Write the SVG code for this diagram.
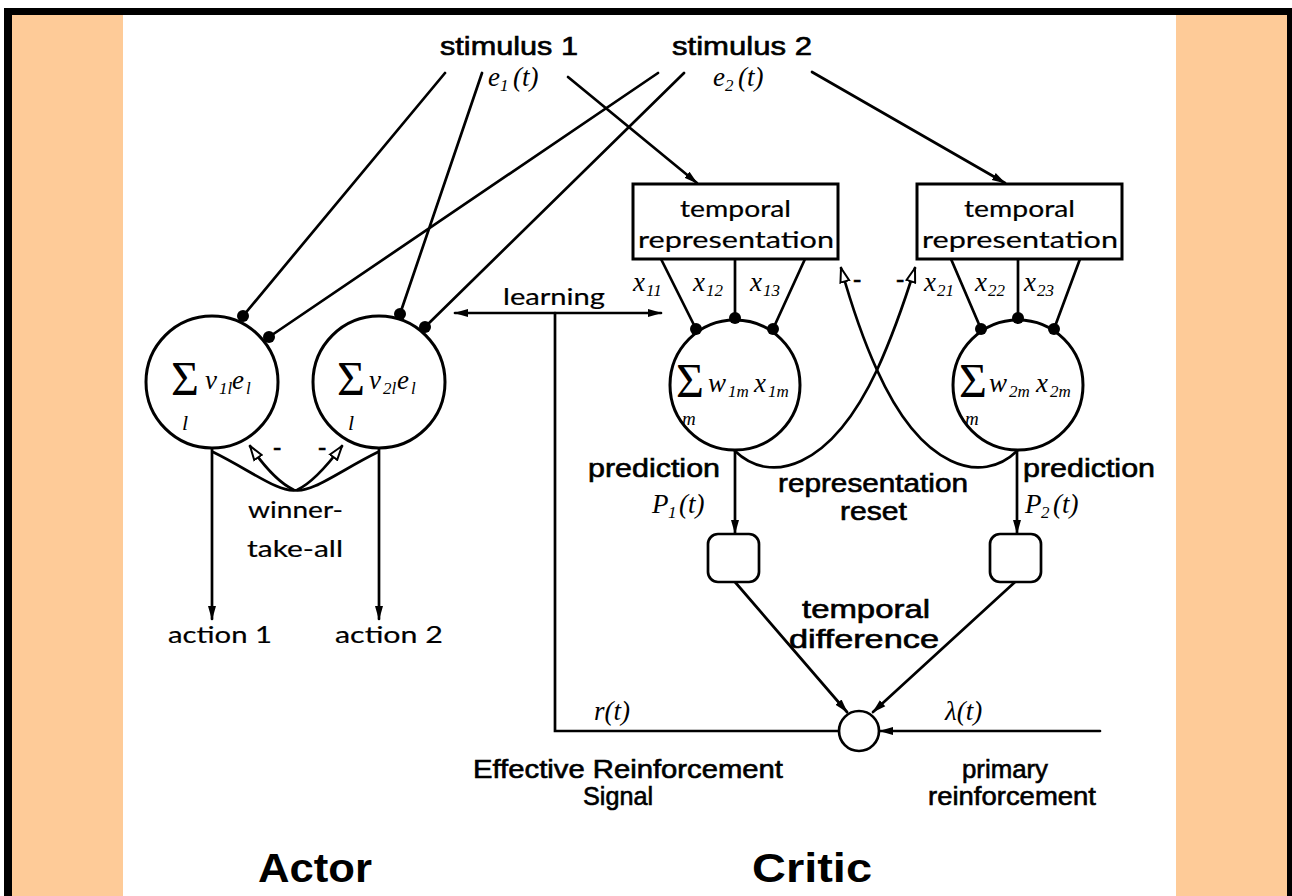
<svg xmlns="http://www.w3.org/2000/svg" width="1292" height="896" viewBox="0 0 1292 896">
<style>
.ln{stroke:#000;stroke-width:2.7;fill:none;stroke-linecap:round}
.nd{stroke:#000;stroke-width:3;fill:#fff}
.dot{fill:#000}
.h{font-family:"Liberation Sans",Arial,sans-serif;font-size:25px;fill:#000;stroke:#000;stroke-width:0.6}
.g{font-family:Lato,"Liberation Sans",sans-serif;font-size:24px;fill:#000;stroke:#000;stroke-width:0.2}
.m{font-family:"Liberation Serif","Times New Roman",serif;font-style:italic;font-size:27px;fill:#000}
.s{font-family:"Liberation Serif","Times New Roman",serif;font-size:48px;fill:#000}
.lim{font-style:italic;font-size:22px}
.limm{font-style:italic;font-size:19px}
.sub{font-size:17px}
.big{font-family:"Liberation Sans",Arial,sans-serif;font-weight:bold;font-size:40px;fill:#000}
</style>
<defs>
<marker id="ah" viewBox="0 0 14 10" refX="13" refY="5" markerWidth="14" markerHeight="10" markerUnits="userSpaceOnUse" orient="auto-start-reverse">
<path d="M0,1 L14,5 L0,9 z" fill="#000"/>
</marker>
<marker id="hol" viewBox="0 0 16 12" refX="15" refY="6" markerWidth="16" markerHeight="12" markerUnits="userSpaceOnUse" orient="auto">
<path d="M1,1.5 L15,6 L1,10.5 z" fill="#fff" stroke="#000" stroke-width="2"/>
</marker>
</defs>
<!-- frame -->
<rect x="4" y="8" width="1288" height="888" fill="#000"/>
<rect x="12" y="15" width="1275" height="881" fill="#FECB98"/>
<rect x="123" y="15" width="1053" height="881" fill="#fff"/>

<g id="connectors">
<path class="ln" d="M445,73 L243,316"/>
<path class="ln" d="M482,73 L400,314"/>
<path class="ln" d="M658,73 L269,337"/>
<path class="ln" d="M684,73 L425,327"/>
<path class="ln" d="M568,77 L697,183" marker-end="url(#ah)"/>
<path class="ln" d="M812,72 L1005,183" marker-end="url(#ah)"/>
<path class="ln" d="M661,259 L696,329"/>
<path class="ln" d="M735,259 L735,318"/>
<path class="ln" d="M805,259 L773,329"/>
<path class="ln" d="M951,259 L981,329"/>
<path class="ln" d="M1018,259 L1018,318"/>
<path class="ln" d="M1080,259 L1054,329"/>
<path class="ln" d="M455,313 L661,313" marker-start="url(#ah)" marker-end="url(#ah)"/>
<path class="ln" d="M555,313 L555,731 L838,731"/>
<path class="ln" d="M1100,731 L880,731" marker-end="url(#ah)"/>
<path class="ln" d="M735,451 L735,533" marker-end="url(#ah)"/>
<path class="ln" d="M1017,451 L1017,533" marker-end="url(#ah)"/>
<path class="ln" d="M735,582 L847,712" marker-end="url(#ah)"/>
<path class="ln" d="M1015,582 L873,712" marker-end="url(#ah)"/>
<path class="ln" d="M212,448 L212,619" marker-end="url(#ah)"/>
<path class="ln" d="M379,448 L379,619" marker-end="url(#ah)"/>
<path class="ln" d="M213,452 C250,470 280,494 297,490 C314,482 330,462 342,446" marker-end="url(#hol)"/>
<path class="ln" d="M378,452 C341,470 311,494 294,490 C277,482 261,462 250,446" marker-end="url(#hol)"/>
<path class="ln" d="M735,451 C770,485 830,470 877,370 C893,335 905,300 915,268" marker-end="url(#hol)"/>
<path class="ln" d="M1017,451 C982,485 922,470 877,370 C861,335 850,300 841,268" marker-end="url(#hol)"/>
</g>

<g id="actor1">
<circle class="nd" cx="212" cy="382" r="66"/>
<circle class="dot" cx="243" cy="316" r="6"/>
<circle class="dot" cx="269" cy="337" r="6"/>
<text class="s" x="171" y="395">Σ<tspan class="lim" x="182" y="430">l</tspan></text>
<text class="m" y="389"><tspan x="205">v</tspan><tspan class="sub" x="219" dy="5">1l</tspan><tspan x="232" dy="-5">e</tspan><tspan class="sub" x="246" dy="5">l</tspan></text>
</g>
<g id="actor2">
<circle class="nd" cx="379" cy="382" r="66"/>
<circle class="dot" cx="400" cy="314" r="6"/>
<circle class="dot" cx="425" cy="327" r="6"/>
<text class="s" x="337" y="395">Σ<tspan class="lim" x="348" y="430">l</tspan></text>
<text class="m" y="389"><tspan x="369">v</tspan><tspan class="sub" x="383" dy="5">2l</tspan><tspan x="397" dy="-5">e</tspan><tspan class="sub" x="411" dy="5">l</tspan></text>
</g>

<g id="critic1">
<circle class="nd" cx="735" cy="385" r="65"/>
<circle class="dot" cx="696" cy="329" r="6"/>
<circle class="dot" cx="735" cy="318" r="6"/>
<circle class="dot" cx="773" cy="329" r="6"/>
<text class="s" x="676" y="397">Σ<tspan class="limm" x="682" y="425">m</tspan></text>
<text class="m" y="392"><tspan x="708">w</tspan><tspan class="sub" x="728" dy="5">1m</tspan><tspan x="754" dy="-5">x</tspan><tspan class="sub" x="768" dy="5">1m</tspan></text>
</g>
<g id="critic2">
<circle class="nd" cx="1018" cy="385" r="65"/>
<circle class="dot" cx="981" cy="329" r="6"/>
<circle class="dot" cx="1018" cy="318" r="6"/>
<circle class="dot" cx="1054" cy="329" r="6"/>
<text class="s" x="959" y="397">Σ<tspan class="limm" x="965" y="425">m</tspan></text>
<text class="m" y="392"><tspan x="989">w</tspan><tspan class="sub" x="1009" dy="5">2m</tspan><tspan x="1036" dy="-5">x</tspan><tspan class="sub" x="1050" dy="5">2m</tspan></text>
</g>

<g id="tr1">
<rect x="633" y="184" width="205" height="75" fill="#fff" stroke="#000" stroke-width="3"/>
<text class="g" x="680" y="217" textLength="111" lengthAdjust="spacingAndGlyphs">temporal</text>
<text class="g" x="638" y="248" textLength="196" lengthAdjust="spacingAndGlyphs">representation</text>
</g>
<g id="tr2">
<rect x="917" y="184" width="205" height="75" fill="#fff" stroke="#000" stroke-width="3"/>
<text class="g" x="964" y="217" textLength="111" lengthAdjust="spacingAndGlyphs">temporal</text>
<text class="g" x="922" y="248" textLength="196" lengthAdjust="spacingAndGlyphs">representation</text>
</g>

<g id="delay1"><rect x="708" y="534" width="51" height="48" rx="10" fill="#fff" stroke="#000" stroke-width="2.7"/></g>
<g id="delay2"><rect x="990" y="534" width="51" height="48" rx="10" fill="#fff" stroke="#000" stroke-width="2.7"/></g>
<g id="sum"><circle cx="859" cy="731" r="20" fill="#fff" stroke="#000" stroke-width="2.7"/></g>

<g id="labels">
<text class="h" x="440" y="55" textLength="138" lengthAdjust="spacingAndGlyphs">stimulus 1</text>
<text class="h" x="672" y="55" textLength="140" lengthAdjust="spacingAndGlyphs">stimulus 2</text>
<text class="m" y="86"><tspan x="488">e</tspan><tspan class="sub" x="500" dy="5">1</tspan><tspan x="513" dy="-5">(t)</tspan></text>
<text class="m" y="86"><tspan x="713">e</tspan><tspan class="sub" x="725" dy="5">2</tspan><tspan x="738" dy="-5">(t)</tspan></text>
<text class="g" x="503" y="305" textLength="102" lengthAdjust="spacingAndGlyphs">learning</text>
<text class="m" y="291"><tspan x="633">x</tspan><tspan class="sub" x="646" dy="5">11</tspan></text>
<text class="m" y="291"><tspan x="693">x</tspan><tspan class="sub" x="706" dy="5">12</tspan></text>
<text class="m" y="291"><tspan x="750">x</tspan><tspan class="sub" x="763" dy="5">13</tspan></text>
<text class="m" y="291"><tspan x="924">x</tspan><tspan class="sub" x="937" dy="5">21</tspan></text>
<text class="m" y="291"><tspan x="975">x</tspan><tspan class="sub" x="988" dy="5">22</tspan></text>
<text class="m" y="291"><tspan x="1024">x</tspan><tspan class="sub" x="1037" dy="5">23</tspan></text>
<text class="h" x="853" y="288">-</text>
<text class="h" x="896" y="288">-</text>
<text class="h" x="273" y="456">-</text>
<text class="h" x="318" y="456">-</text>
<text class="g" x="248" y="518" textLength="95" lengthAdjust="spacingAndGlyphs">winner-</text>
<text class="g" x="247" y="557" textLength="96" lengthAdjust="spacingAndGlyphs">take-all</text>
<text class="g" x="168" y="643" textLength="104" lengthAdjust="spacingAndGlyphs">action 1</text>
<text class="g" x="335" y="643" textLength="108" lengthAdjust="spacingAndGlyphs">action 2</text>
<text class="h" x="588" y="477" textLength="132" lengthAdjust="spacingAndGlyphs">prediction</text>
<text class="h" x="1023" y="477" textLength="132" lengthAdjust="spacingAndGlyphs">prediction</text>
<text class="m" y="513"><tspan x="652">P</tspan><tspan class="sub" x="668" dy="5">1</tspan><tspan x="679" dy="-5">(t)</tspan></text>
<text class="m" y="513"><tspan x="1025">P</tspan><tspan class="sub" x="1041" dy="5">2</tspan><tspan x="1053" dy="-5">(t)</tspan></text>
<text class="h" x="778" y="492" textLength="190" lengthAdjust="spacingAndGlyphs">representation</text>
<text class="h" x="840" y="520" textLength="67" lengthAdjust="spacingAndGlyphs">reset</text>
<text class="h" x="802" y="618" textLength="128" lengthAdjust="spacingAndGlyphs">temporal</text>
<text class="h" x="789" y="648" textLength="150" lengthAdjust="spacingAndGlyphs">difference</text>
<text class="m" x="594" y="720">r(t)</text>
<text class="m" x="945" y="720">λ(t)</text>
<text class="h" x="473" y="778" textLength="310" lengthAdjust="spacingAndGlyphs">Effective Reinforcement</text>
<text class="h" x="583" y="805" textLength="70" lengthAdjust="spacingAndGlyphs">Signal</text>
<text class="h" x="962" y="778" textLength="86" lengthAdjust="spacingAndGlyphs">primary</text>
<text class="h" x="928" y="805" textLength="168" lengthAdjust="spacingAndGlyphs">reinforcement</text>
<text class="big" x="258" y="882" textLength="114" lengthAdjust="spacingAndGlyphs">Actor</text>
<text class="big" x="752" y="882" textLength="120" lengthAdjust="spacingAndGlyphs">Critic</text>
</g>
</svg>
